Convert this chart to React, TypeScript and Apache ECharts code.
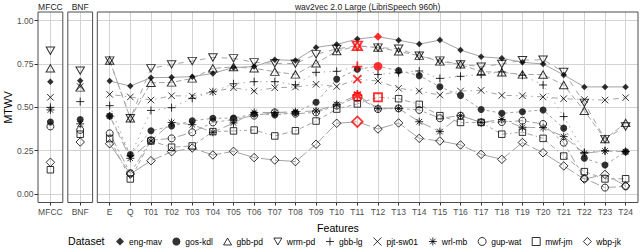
import React, { useEffect, useRef } from 'react';
import * as echarts from 'echarts';

// ---------- data ----------
const FEATURES = ['E', 'Q', 'T01', 'T02', 'T03', 'T04', 'T05', 'T06', 'T07', 'T08', 'T09', 'T10', 'T11', 'T12', 'T13', 'T14', 'T15', 'T16', 'T17', 'T18', 'T19', 'T20', 'T21', 'T22', 'T23', 'T24'];
const DATASETS = ['eng-mav', 'gos-kdl', 'gbb-pd', 'wrm-pd', 'gbb-lg', 'pjt-sw01', 'wrl-mb', 'gup-wat', 'mwf-jm', 'wbp-jk'];
const PANEL_TITLES = ['MFCC', 'BNF', 'wav2vec 2.0 Large (LibriSpeech 960h)'];
const Y_TICKS_STEP = 0.25;

// MFCC and BNF: one value per dataset (same order as DATASETS)
const MFCC_MTWV = [0.648, 0.415, 0.725, 0.827, 0.5, 0.558, 0.485, 0.39, 0.14, 0.183];
const BNF_MTWV = [0.654, 0.43, 0.615, 0.712, 0.533, 0.62, 0.405, 0.37, 0.345, 0.3];

// wav2vec 2.0 features E, Q, T01..T24
const ENG_MAV = [0.652, 0.623, 0.671, 0.673, 0.677, 0.696, 0.73, 0.735, 0.775, 0.77, 0.846, 0.863, 0.894, 0.908, 0.887, 0.865, 0.888, 0.831, 0.792, 0.783, 0.76, 0.75, 0.687, 0.618, 0.618, 0.618];
const GOS_KDL = [0.45, 0.228, 0.365, 0.392, 0.422, 0.437, 0.438, 0.462, 0.456, 0.469, 0.529, 0.663, 0.72, 0.737, 0.712, 0.683, 0.619, 0.568, 0.488, 0.466, 0.475, 0.485, 0.38, 0.206, 0.167, 0.244];
const GBB_PD = [0.77, 0.437, 0.642, 0.644, 0.667, 0.725, 0.733, 0.725, 0.706, 0.69, 0.754, 0.825, 0.854, 0.845, 0.823, 0.798, 0.765, 0.748, 0.706, 0.702, 0.69, 0.689, 0.629, 0.48, 0.317, 0.41];
const WRM_PD = [0.77, 0.437, 0.725, 0.748, 0.767, 0.788, 0.783, 0.76, 0.754, 0.752, 0.806, 0.837, 0.856, 0.845, 0.838, 0.798, 0.77, 0.748, 0.735, 0.75, 0.772, 0.775, 0.704, 0.526, 0.317, 0.39];
const GBB_LG = [0.51, 0.22, 0.482, 0.498, 0.552, 0.59, 0.636, 0.648, 0.648, 0.63, 0.702, 0.708, 0.735, 0.69, 0.7, 0.71, 0.667, 0.679, 0.69, 0.705, 0.685, 0.629, 0.447, 0.24, 0.25, 0.245];
const PJT_SW01 = [0.575, 0.56, 0.542, 0.567, 0.565, 0.59, 0.613, 0.594, 0.613, 0.617, 0.633, 0.62, 0.663, 0.652, 0.61, 0.594, 0.571, 0.594, 0.598, 0.569, 0.567, 0.56, 0.55, 0.545, 0.542, 0.556];
const WRL_MB = [0.45, 0.206, 0.306, 0.413, 0.4, 0.356, 0.41, 0.471, 0.47, 0.475, 0.479, 0.517, 0.571, 0.494, 0.494, 0.417, 0.36, 0.452, 0.413, 0.43, 0.385, 0.383, 0.331, 0.235, 0.248, 0.244];
const GUP_WAT = [0.35, 0.12, 0.31, 0.321, 0.356, 0.413, 0.43, 0.452, 0.471, 0.463, 0.471, 0.51, 0.56, 0.49, 0.494, 0.485, 0.437, 0.452, 0.413, 0.415, 0.423, 0.404, 0.296, 0.09, 0.037, 0.044];
const MWF_JM = [0.32, 0.087, 0.306, 0.27, 0.277, 0.36, 0.364, 0.369, 0.335, 0.365, 0.421, 0.49, 0.52, 0.558, 0.55, 0.517, 0.452, 0.413, 0.413, 0.345, 0.357, 0.321, 0.219, 0.129, 0.087, 0.088];
const WBP_JK = [0.29, 0.115, 0.192, 0.244, 0.265, 0.225, 0.246, 0.21, 0.196, 0.187, 0.287, 0.408, 0.417, 0.375, 0.41, 0.321, 0.306, 0.283, 0.229, 0.2, 0.297, 0.238, 0.162, 0.086, 0.113, 0.047];

const W2V_TABLE: Record<string, number[]> = {
  'eng-mav': ENG_MAV, 'gos-kdl': GOS_KDL, 'gbb-pd': GBB_PD, 'wrm-pd': WRM_PD, 'gbb-lg': GBB_LG,
  'pjt-sw01': PJT_SW01, 'wrl-mb': WRL_MB, 'gup-wat': GUP_WAT, 'mwf-jm': MWF_JM, 'wbp-jk': WBP_JK,
};

// ---------- styles ----------
const FONT = 'Liberation Sans';
const RED = '#ff0000';
const GRID_COLOR = '#d3d3d3';
const BORDER_COLOR = '#4d4d4d';
const LINE_COLOR = '#a3a3a3';

type Sym = { symbol: string; size: number | number[]; filled: boolean };
const SYMBOLS: Record<string, Sym> = {
  'eng-mav': { symbol: 'diamond', size: 6.5, filled: true },
  'gos-kdl': { symbol: 'circle', size: 7, filled: true },
  'gbb-pd': { symbol: 'path://M5,0L10,8.66L0,8.66Z', size: [8.5, 7.4], filled: false },
  'wrm-pd': { symbol: 'path://M0,0L10,0L5,8.66Z', size: [8.5, 7.4], filled: false },
  'gbb-lg': { symbol: 'path://M5,0L5,10M0,5L10,5', size: 8, filled: false },
  'pjt-sw01': { symbol: 'path://M0,0L10,10M10,0L0,10', size: 6.5, filled: false },
  'wrl-mb': { symbol: 'path://M5,0L5,10M0,5L10,5M1.5,1.5L8.5,8.5M8.5,1.5L1.5,8.5', size: 8, filled: false },
  'gup-wat': { symbol: 'circle', size: 7, filled: false },
  'mwf-jm': { symbol: 'rect', size: 6.5, filled: false },
  'wbp-jk': { symbol: 'diamond', size: 8.5, filled: false },
};

const LINE_DASH: Record<string, any> = {
  'eng-mav': 'solid',
  'gos-kdl': [3, 3],
  'gbb-pd': [5.5, 3],
  'wrm-pd': [5.5, 5.5],
  'gbb-lg': [1.4, 4.2],
  'pjt-sw01': [1.4, 4.2, 5.5, 4.2],
  'wrl-mb': [10, 4.2],
  'gup-wat': [3, 3, 8.5, 3],
  'mwf-jm': [1.4, 3, 3, 3, 4.2, 3, 5.5, 3],
  'wbp-jk': [21, 3, 11, 3],
};

// ---------- layout ----------
const PANEL_TOP = 12;
const PANEL_BOTTOM = 202.5;
const Y_AT_1 = 20.7;
const Y_AT_0 = 194;
const PANELS = [
  { left: 38, width: 24.8, cats: ['MFCC'] },
  { left: 67.8, width: 24.8, cats: ['BNF'] },
  { left: 97.3, width: 540.7, cats: FEATURES },
];

function inner(p: { left: number; width: number; cats: string[] }) {
  if (p.cats.length === 1) return { left: p.left, width: p.width };
  const s = p.width / (p.cats.length + 0.2);
  return { left: p.left + 0.6 * s, width: (p.cats.length - 1) * s };
}

function markerStyle(name: string, red: boolean) {
  const s = SYMBOLS[name];
  if (s.filled) return { color: red ? RED : '#000', borderWidth: 0 };
  return { color: 'rgba(0,0,0,0)', borderColor: red ? RED : '#000', borderWidth: red ? 1.8 : 1 };
}

function argMax(a: number[]) {
  let k = 0;
  a.forEach((v, i) => { if (v > a[k]) k = i; });
  return k;
}

function buildOption() {
  const grid: any[] = [];
  const xAxis: any[] = [];
  const yAxis: any[] = [];
  const series: any[] = [];
  const n = PANELS.length;
  const tickLabel = { fontSize: 8.5, color: '#4d4d4d', fontFamily: FONT };

  PANELS.forEach((p, i) => {
    const inn = inner(p);
    // A: horizontal gridlines, y labels
    grid[i] = { left: p.left, width: p.width, top: Y_AT_1, height: Y_AT_0 - Y_AT_1, outerBoundsMode: 'none' };
    xAxis[i] = { type: 'value', gridIndex: i, show: false, min: 0, max: 1 };
    yAxis[i] = {
      type: 'value', gridIndex: i, min: 0, max: 1, interval: Y_TICKS_STEP,
      axisLine: { show: false },
      axisTick: { show: i === 0, length: 3.5, lineStyle: { color: '#333' } },
      axisLabel: { show: i === 0, margin: 4.5, ...tickLabel, formatter: (v: number) => v.toFixed(2) },
      splitLine: { show: true, lineStyle: { color: GRID_COLOR, width: 1 } },
      name: i === 0 ? 'MTWV' : '', nameLocation: 'middle', nameGap: 23,
      nameTextStyle: { fontSize: 10.6, color: '#000', fontFamily: FONT },
    };
    // B: vertical gridlines, x labels and ticks
    const b = n + i;
    grid[b] = { left: inn.left, width: inn.width, top: PANEL_TOP, height: PANEL_BOTTOM - PANEL_TOP, outerBoundsMode: 'none' };
    xAxis[b] = {
      type: 'category', gridIndex: b, data: p.cats, boundaryGap: false, position: 'bottom',
      axisLine: { show: false },
      axisTick: { show: true, interval: 0, length: 3, lineStyle: { color: '#333' } },
      axisLabel: { interval: 0, margin: 5, ...tickLabel },
      splitLine: { show: true, interval: 0, lineStyle: { color: GRID_COLOR, width: 1 } },
    };
    yAxis[b] = { type: 'value', gridIndex: b, show: false, min: 0, max: 1 };
    // C: data
    const c = 2 * n + i;
    grid[c] = { left: inn.left, width: inn.width, top: Y_AT_1, height: Y_AT_0 - Y_AT_1, outerBoundsMode: 'none' };
    xAxis[c] = { type: 'category', gridIndex: c, data: p.cats, boundaryGap: false, show: false };
    yAxis[c] = { type: 'value', gridIndex: c, show: false, min: 0, max: 1 };
    // D: border
    const d = 3 * n + i;
    grid[d] = {
      left: p.left, width: p.width, top: PANEL_TOP, height: PANEL_BOTTOM - PANEL_TOP,
      show: true, borderColor: BORDER_COLOR, borderWidth: 1, backgroundColor: 'transparent', z: 1, outerBoundsMode: 'none',
    };
    xAxis[d] = { type: 'value', gridIndex: d, show: false, min: 0, max: 1 };
    yAxis[d] = { type: 'value', gridIndex: d, show: false, min: 0, max: 1 };
  });

  // single-value panels
  [MFCC_MTWV, BNF_MTWV].forEach((vals, pi) => {
    const c = 2 * n + pi;
    DATASETS.forEach((name, di) => {
      const s = SYMBOLS[name];
      series.push({
        type: 'scatter', name, xAxisIndex: c, yAxisIndex: c, z: 3, silent: true,
        symbol: s.symbol, symbolSize: s.size,
        itemStyle: markerStyle(name, false),
        data: [[0, vals[di]]],
      });
    });
  });

  // wav2vec panel
  const cMain = 2 * n + 2;
  DATASETS.forEach((name) => {
    const vals = W2V_TABLE[name];
    series.push({
      type: 'line', name, xAxisIndex: cMain, yAxisIndex: cMain, z: 2, silent: true,
      symbol: 'none', showSymbol: false,
      lineStyle: { color: LINE_COLOR, width: 1, type: LINE_DASH[name] },
      data: vals,
    });
  });
  DATASETS.forEach((name) => {
    const vals = W2V_TABLE[name];
    const best = argMax(vals);
    const s = SYMBOLS[name];
    series.push({
      type: 'scatter', name, xAxisIndex: cMain, yAxisIndex: cMain, z: 3, silent: true,
      symbol: s.symbol, symbolSize: s.size,
      itemStyle: markerStyle(name, false),
      data: vals.map((v, i) => (i === best
        ? {
          value: [i, v],
          itemStyle: markerStyle(name, true),
          symbolSize: Array.isArray(s.size) ? s.size.map((x) => x * 1.12) : s.size * 1.25,
        }
        : [i, v])),
    });
  });

  const graphic: any[] = PANELS.map((p, i) => ({
    type: 'text', x: p.left + p.width / 2, y: 6.5,
    style: { text: PANEL_TITLES[i], textAlign: 'center', textVerticalAlign: 'middle', fontSize: 8.5, fill: '#1a1a1a', fontFamily: FONT },
  }));
  const last = PANELS[PANELS.length - 1];
  graphic.push({
    type: 'text', x: (PANELS[0].left + last.left + last.width) / 2, y: 228,
    style: { text: 'Features', textAlign: 'center', textVerticalAlign: 'middle', fontSize: 10.6, fill: '#000', fontFamily: FONT },
  });
  graphic.push({
    type: 'text', x: 68, y: 241,
    style: { text: 'Dataset', textAlign: 'left', textVerticalAlign: 'middle', fontSize: 10.6, fill: '#000', fontFamily: FONT },
  });

  return {
    animation: false,
    backgroundColor: '#ffffff',
    textStyle: { fontFamily: FONT },
    grid, xAxis, yAxis, series, graphic,
    legend: {
      orient: 'horizontal', left: 116, top: 237, padding: 0,
      itemWidth: 8, itemHeight: 8, itemGap: 10.3, selectedMode: false,
      textStyle: { fontSize: 8.5, color: '#000', fontFamily: FONT },
      data: DATASETS.map((name) => ({
        name,
        icon: SYMBOLS[name].symbol,
        itemStyle: markerStyle(name, false),
      })),
    },
  };
}

export default function App() {
  const ref = useRef<HTMLDivElement>(null);
  useEffect(() => {
    const chart = echarts.init(ref.current!, null, { renderer: 'svg' });
    chart.setOption(buildOption() as any);
    return () => chart.dispose();
  }, []);
  return <div ref={ref} style={{ position: 'absolute', left: 0, top: 0, width: 640, height: 250 }} />;
}
